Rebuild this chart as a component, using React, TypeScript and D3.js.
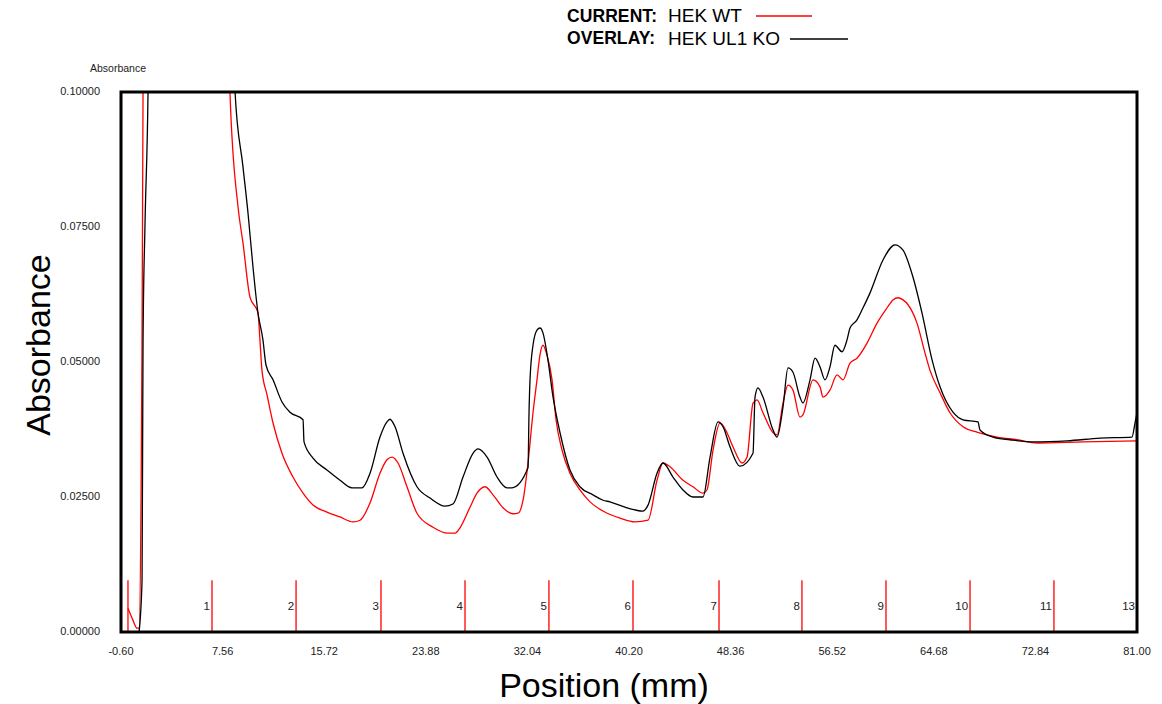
import * as d3 from 'd3';

// HEK WT (current) trace: position in mm and absorbance
const wtPos = [-0.04, 0.36, 0.69, 0.85, 1.01, 1.09, 1.17, 1.25, 8.07, 8.15, 8.80, 9.20, 9.76, 10.40, 10.56, 10.72, 11.13, 11.61, 12.33, 13.21, 14.02, 14.82, 15.94, 16.99, 18.03, 18.60, 19.40, 20.20, 20.76, 21.17, 21.65, 22.37, 23.17, 24.46, 25.66, 26.23, 26.63, 27.43, 27.99, 28.63, 29.28, 30.08, 30.88, 31.29, 31.69, 32.09, 32.49, 32.81, 33.05, 33.29, 33.61, 34.02, 34.34, 34.82, 35.46, 36.26, 37.07, 38.11, 39.48, 40.68, 41.73, 42.45, 42.93, 43.49, 44.54, 45.34, 46.14, 46.46, 46.95, 47.51, 48.07, 48.55, 49.28, 49.68, 50.16, 50.48, 50.96, 51.77, 52.09, 52.57, 52.97, 53.37, 53.93, 54.17, 54.98, 55.54, 55.78, 56.34, 56.91, 57.39, 57.95, 58.51, 59.32, 60.12, 60.92, 61.40, 61.80, 62.21, 62.61, 63.33, 63.97, 64.37, 65.18, 65.98, 67.03, 68.15, 69.76, 71.36, 72.97, 76.66, 81.0];
const wtAbs = [0.0044, 0.0022, 0.0007, 0.0007, 0.0244, 0.0541, 0.1, 0.117, 0.117, 0.1, 0.0787, 0.0720, 0.0620, 0.0591, 0.0541, 0.0485, 0.0439, 0.0387, 0.0331, 0.0287, 0.0257, 0.0235, 0.0222, 0.0213, 0.0204, 0.0207, 0.0239, 0.0294, 0.0319, 0.0324, 0.0313, 0.0269, 0.0220, 0.0194, 0.0183, 0.0183, 0.0193, 0.0231, 0.0257, 0.0269, 0.0254, 0.0230, 0.0219, 0.0220, 0.0244, 0.0313, 0.0406, 0.0467, 0.0513, 0.0531, 0.0513, 0.0467, 0.0393, 0.0337, 0.0294, 0.0263, 0.0241, 0.0224, 0.0211, 0.0204, 0.0207, 0.0281, 0.0313, 0.0306, 0.0281, 0.0269, 0.0257, 0.0263, 0.0337, 0.0387, 0.0369, 0.0343, 0.0313, 0.0324, 0.0424, 0.0430, 0.0406, 0.0369, 0.0365, 0.0424, 0.0457, 0.0448, 0.0398, 0.0402, 0.0467, 0.0454, 0.0435, 0.0448, 0.0476, 0.0467, 0.0498, 0.0507, 0.0535, 0.0572, 0.0600, 0.0615, 0.0619, 0.0615, 0.0606, 0.0572, 0.0517, 0.0485, 0.0443, 0.0406, 0.0380, 0.0370, 0.0361, 0.0356, 0.0350, 0.0352, 0.0354];

// HEK UL1 KO (overlay) trace
const koPos = [0.85, 1.09, 1.17, 1.33, 1.57, 1.65, 8.48, 8.56, 9.20, 9.60, 10.00, 10.40, 10.80, 11.05, 11.61, 12.33, 12.97, 14.02, 14.10, 14.82, 15.94, 16.99, 17.95, 18.76, 19.40, 20.20, 20.76, 21.00, 21.41, 22.05, 23.17, 24.22, 25.42, 26.06, 26.87, 27.67, 28.07, 28.80, 29.60, 30.40, 30.80, 32.09, 32.17, 32.25, 32.49, 32.81, 33.05, 33.29, 33.69, 34.10, 34.66, 35.46, 36.26, 37.31, 38.11, 38.67, 40.04, 41.32, 41.73, 42.45, 42.93, 43.73, 44.54, 45.34, 46.14, 46.71, 47.35, 47.75, 48.31, 49.11, 50.16, 50.32, 50.56, 50.96, 51.77, 52.09, 52.57, 52.97, 53.37, 53.93, 54.17, 54.74, 55.14, 55.54, 55.94, 56.34, 56.74, 57.31, 57.71, 57.95, 58.51, 58.99, 59.56, 60.60, 61.56, 62.21, 63.01, 63.73, 64.54, 65.18, 66.22, 67.03, 68.23, 68.39, 69.43, 70.80, 72.65, 75.38, 78.03, 80.60, 80.84, 81.0];
const koAbs = [0, 0.0096, 0.0541, 0.0757, 0.1, 0.117, 0.117, 0.1, 0.0861, 0.0776, 0.0676, 0.0591, 0.0541, 0.0494, 0.0467, 0.0426, 0.0407, 0.0393, 0.0352, 0.0322, 0.0300, 0.0281, 0.0267, 0.0267, 0.0294, 0.0361, 0.0389, 0.0394, 0.0380, 0.0331, 0.0269, 0.0248, 0.0233, 0.0237, 0.0287, 0.0331, 0.0339, 0.0324, 0.0287, 0.0267, 0.0267, 0.0304, 0.0406, 0.0467, 0.0531, 0.0559, 0.0563, 0.0554, 0.0504, 0.0435, 0.0369, 0.0300, 0.0269, 0.0254, 0.0244, 0.0241, 0.0230, 0.0224, 0.0235, 0.0294, 0.0313, 0.0287, 0.0263, 0.0250, 0.0250, 0.0324, 0.0389, 0.0380, 0.0343, 0.0307, 0.0331, 0.0435, 0.0452, 0.0435, 0.0374, 0.0361, 0.0417, 0.0489, 0.0481, 0.0435, 0.0424, 0.0467, 0.0507, 0.0491, 0.0467, 0.0491, 0.0531, 0.0519, 0.0541, 0.0563, 0.0578, 0.0600, 0.0628, 0.0689, 0.0717, 0.0707, 0.0657, 0.0591, 0.0504, 0.0454, 0.0407, 0.0393, 0.0389, 0.0374, 0.0361, 0.0356, 0.0352, 0.0354, 0.0359, 0.0361, 0.0387, 0.0406];

const xTicks = [-0.6, 7.56, 15.72, 23.88, 32.04, 40.2, 48.36, 56.52, 64.68, 72.84, 81.0];
const xTickLabels = ['-0.60', '7.56', '15.72', '23.88', '32.04', '40.20', '48.36', '56.52', '64.68', '72.84', '81.00'];
const yTicks = [0, 0.025, 0.05, 0.075, 0.1];
const yTickLabels = ['0.00000', '0.02500', '0.05000', '0.07500', '0.10000'];

// fraction markers
const fracPos = [-0.04, 6.71, 13.46, 20.28, 27.03, 33.77, 40.52, 47.43, 54.09, 60.84, 67.59, 74.33, 81.0];
const fracLabels = ['', '1', '2', '3', '4', '5', '6', '7', '8', '9', '10', '11', '13'];

const font = "'Liberation Sans', Arial, sans-serif";

export default function App() {
  const left = 121, right = 1137, top = 92, bottom = 632;
  const x = d3.scaleLinear().domain([-0.6, 81]).range([left, right]);
  const y = d3.scaleLinear().domain([0, 0.1]).range([bottom, top]);

  const line = d3.line<[number, number]>()
    .x(d => x(d[0]))
    .y(d => y(d[1]))
    .curve(d3.curveMonotoneX);

  const wt = wtPos.map((p, i) => [p, wtAbs[i]] as [number, number]);
  const ko = koPos.map((p, i) => [p, koAbs[i]] as [number, number]);
  const markTop = y(0.0096);

  return (
    <svg width={1162} height={704} style={{ position: 'absolute', left: 0, top: 0, background: '#fff' }}>
      <defs>
        <clipPath id="plotClip">
          <rect x={left} y={top} width={right - left} height={bottom - top} />
        </clipPath>
      </defs>

      {/* legend */}
      <g fontFamily={font}>
        <text x={567} y={22} fontSize={17.5} fontWeight="bold" textLength={90}>CURRENT:</text>
        <text x={668} y={22} fontSize={19}>HEK WT</text>
        <line x1={756} x2={812} y1={16} y2={16} stroke="#ff0000" strokeWidth={1.5} />
        <text x={567} y={44} fontSize={17.5} fontWeight="bold" textLength={88}>OVERLAY:</text>
        <text x={668} y={45} fontSize={19}>HEK UL1 KO</text>
        <line x1={790} x2={848} y1={39} y2={39} stroke="#000" strokeWidth={1.5} />
      </g>

      {/* fraction markers */}
      <g fontFamily={font} fontSize={11.5} fill="#222">
        {fracPos.map((p, i) => (
          <g key={i}>
            <line x1={x(p)} x2={x(p)} y1={markTop} y2={bottom} stroke="#ff0000" strokeWidth={1.3} />
            {fracLabels[i] && (
              <text x={x(p) - 2} y={610} textAnchor="end">{fracLabels[i]}</text>
            )}
          </g>
        ))}
      </g>

      {/* traces */}
      <g clipPath="url(#plotClip)" fill="none">
        <path d={line(wt) ?? ''} stroke="#ff0000" strokeWidth={1.3} />
        <path d={line(ko) ?? ''} stroke="#000" strokeWidth={1.3} />
      </g>

      {/* frame */}
      <rect x={left} y={top} width={right - left} height={bottom - top} fill="none" stroke="#000" strokeWidth={3} />

      {/* axes labels */}
      <g fontFamily={font} fontSize={11} fill="#222">
        {yTicks.map((t, i) => (
          <text key={t} x={100} y={y(t)} textAnchor="end" dominantBaseline="middle">{yTickLabels[i]}</text>
        ))}
        {xTicks.map((t, i) => (
          <text key={t} x={x(t)} y={652} textAnchor="middle" dominantBaseline="middle">{xTickLabels[i]}</text>
        ))}
        <text x={90} y={72} fontSize={10.5}>Absorbance</text>
      </g>
      <text x={604} y={697} textAnchor="middle" fontFamily={font} fontSize={34}>Position (mm)</text>
      <text transform={`translate(50,345) rotate(-90)`} textAnchor="middle" fontFamily={font} fontSize={34}>Absorbance</text>
    </svg>
  );
}
